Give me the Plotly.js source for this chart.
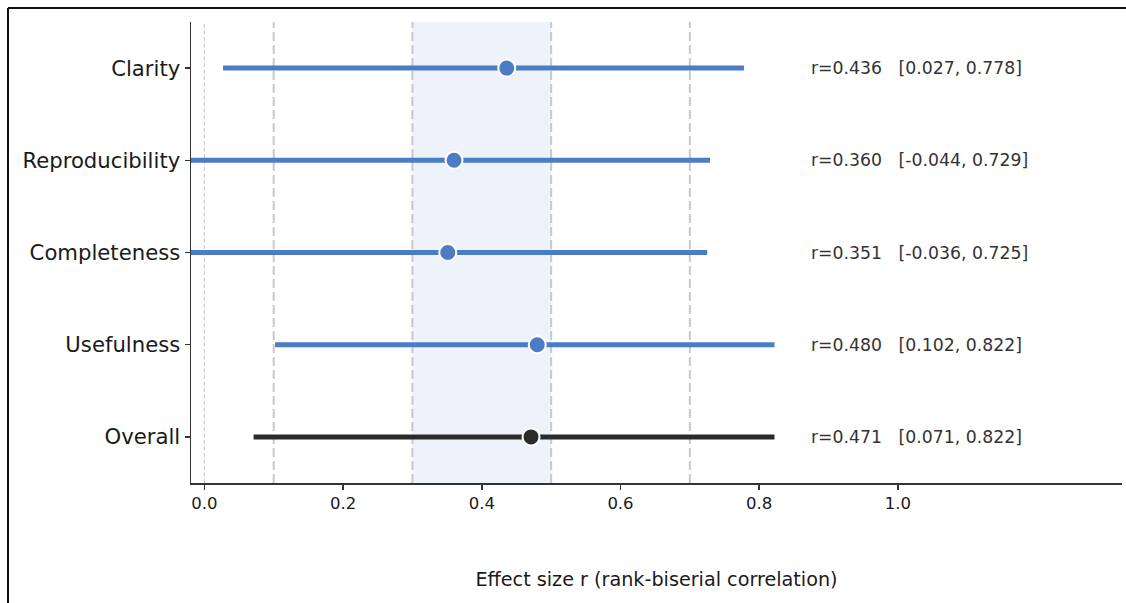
<!DOCTYPE html>
<html>
<head>
<meta charset="utf-8">
<script src="https://cdn.plot.ly/plotly-3.0.1.min.js"></script>
<style>
html,body{margin:0;padding:0;background:#fff;}
#chart{width:1126px;height:603px;}
</style>
</head>
<body>
<div id="chart"></div>
<script>
var categories = ["Clarity", "Reproducibility", "Completeness", "Usefulness", "Overall"];
var rValues = [0.436, 0.360, 0.351, 0.480, 0.471];
var ciLow = [0.027, -0.044, -0.036, 0.102, 0.071];
var ciHigh = [0.778, 0.729, 0.725, 0.822, 0.822];
var refLines = [0, 0.1, 0.3, 0.5, 0.7];
var band = [0.3, 0.5];
var xTicks = [0, 0.2, 0.4, 0.6, 0.8, 1.0];
var labelX = 0.872;

var blue = "#4a7dc4";
var dark = "#2b2b2b";
var traces = [];
categories.forEach(function(c, i){
  var col = (c === "Overall") ? dark : blue;
  traces.push({
    type: "scatter", mode: "lines",
    x: [ciLow[i], ciHigh[i]], y: [c, c],
    line: {color: col, width: 5},
    hoverinfo: "skip", showlegend: false
  });
  traces.push({
    type: "scatter", mode: "markers",
    x: [rValues[i]], y: [c],
    marker: {color: col, size: 17, line: {color: "#ffffff", width: 2}},
    showlegend: false
  });
});

var shapes = [];
shapes.push({type: "rect", xref: "x", yref: "paper", x0: band[0], x1: band[1], y0: 0, y1: 1,
  fillcolor: "#eef2fa", line: {width: 0}, layer: "below"});
refLines.forEach(function(v){
  var thin = (v === 0);
  shapes.push({type: "line", xref: "x", yref: "paper", x0: v, x1: v, y0: 0, y1: 1,
    line: {color: thin ? "#c4c4c4" : "#c8c8c8", width: thin ? 1 : 2, dash: thin ? "4px,2.5px" : "9px,4px"},
    layer: "below"});
});
// outer frame
var pl = 191, pw = 931, pt = 22, ph = 461;
function px(x){ return (x - pl) / pw; }
function py(y){ return (pt + ph - y) / ph; }
shapes.push({type: "line", xref: "paper", yref: "paper", x0: px(8), x1: px(1126), y0: py(8), y1: py(8),
  line: {color: "#111", width: 2}});
shapes.push({type: "line", xref: "paper", yref: "paper", x0: px(8), x1: px(8), y0: py(8), y1: py(603),
  line: {color: "#111", width: 2}});

var annotations = categories.map(function(c, i){
  var sp = "\u00a0\u00a0\u00a0";
  return {
    x: labelX, y: c, xref: "x", yref: "y", xanchor: "left", yanchor: "middle",
    text: "r=" + rValues[i].toFixed(3) + sp + "[" + ciLow[i].toFixed(3) + ", " + ciHigh[i].toFixed(3) + "]",
    showarrow: false,
    font: {family: "DejaVu Sans", size: 17.3, color: "#333333"}
  };
});

var layout = {
  width: 1126, height: 603,
  margin: {l: 191, r: 4, t: 22, b: 120, pad: 0},
  paper_bgcolor: "#ffffff", plot_bgcolor: "#ffffff",
  font: {family: "DejaVu Sans", color: "#1a1a1a"},
  xaxis: {
    range: [-0.0192, 1.323],
    tickvals: xTicks, ticktext: xTicks.map(function(v){ return v.toFixed(1); }),
    ticks: "outside", ticklen: 5, tickwidth: 1.5, tickcolor: "#333",
    showline: true, linecolor: "#333", linewidth: 1.5,
    showgrid: false, zeroline: false,
    tickfont: {size: 16.5, color: "#1a1a1a"},
    title: {text: "Effect size r (rank-biserial correlation)", font: {size: 19.2, color: "#1a1a1a"}, standoff: 60}
  },
  yaxis: {
    type: "category", categoryorder: "array", categoryarray: categories,
    range: [4.5, -0.5],
    ticks: "outside", ticklen: 5, tickwidth: 1.5, tickcolor: "#333",
    showline: true, linecolor: "#333", linewidth: 1.5,
    showgrid: false, zeroline: false,
    tickfont: {size: 21.2, color: "#1a1a1a"}
  },
  shapes: shapes,
  annotations: annotations
};

Plotly.newPlot("chart", traces, layout, {displayModeBar: false, staticPlot: true});
</script>
</body>
</html>
